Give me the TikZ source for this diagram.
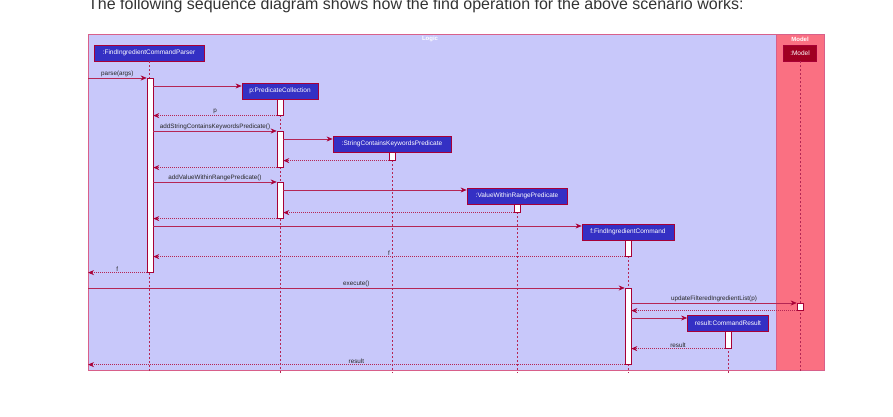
\documentclass[tikz,border=0pt]{standalone}
\usepackage{fontspec}
\setmainfont{Liberation Sans}
\usetikzlibrary{arrows.meta}
\definecolor{umlred}{HTML}{A80036}
\definecolor{umlblue}{HTML}{3430C4}
\definecolor{logicfill}{HTML}{C8C8FA}
\definecolor{modelfill}{HTML}{FA7082}
\definecolor{modeldark}{HTML}{A00022}
\definecolor{framepink}{HTML}{D8608A}
\definecolor{introgray}{HTML}{333333}
\begin{document}
\begin{tikzpicture}[x=1pt,y=-1pt,
  font=\fontsize{6.5}{7}\selectfont,
  frame/.style={draw=framepink, line width=0.8pt, inner sep=0pt, anchor=north west},
  group/.style={text=white, font=\fontsize{6}{7}\selectfont\bfseries},
  obj/.style={draw=umlred, fill=umlblue, text=white, inner sep=0pt,
    minimum height=16, line width=0.8pt},
  act/.style={draw=umlred, fill=white, minimum width=6, inner sep=0pt,
    anchor=north, line width=0.6pt},
  life/.style={draw=umlred!85!white, line width=0.5pt, dash pattern=on 2pt off 2pt},
  msg/.style={draw=umlred!85!white, line width=0.6pt,
    -{Stealth[length=6pt, width=5pt, inset=2pt, umlred]}},
  ret/.style={msg, dash pattern=on 1pt off 1pt},
  lbl/.style={above, inner sep=1pt, text=black!85, font=\fontsize{6.3}{7}\selectfont}]
  \useasboundingbox (0,0) rectangle (893,417);

  % Intro line
  \node[anchor=base west, inner sep=0pt, text=introgray,
    font=\fontsize{16}{18}\selectfont] (intro) at (88,10)
    {The following sequence diagram shows how the find operation for the above scenario works:};

  % Groups
  \node[frame, fill=logicfill, minimum width=688, minimum height=336] (logic) at (88,34) {};
  \node[frame, fill=modelfill, minimum width=48, minimum height=336] (modelgrp) at (776,34) {};
  \node[group] at (430,39) {Logic};
  \node[group] at (800,39) {Model};

  % Participants
  \node[obj, minimum width=110] (parser) at (149,53) {:FindIngredientCommandParser};
  \node[obj, minimum width=76] (pc) at (280,91) {p:PredicateCollection};
  \node[obj, minimum width=118] (sckp) at (392,144) {:StringContainsKeywordsPredicate};
  \node[obj, minimum width=100] (vwrp) at (517,196) {:ValueWithinRangePredicate};
  \node[obj, minimum width=92] (fic) at (628,232) {f:FindIngredientCommand};
  \node[obj, minimum width=33, fill=modeldark] (model) at (800,53) {:Model};
  \node[obj, minimum width=81] (cr) at (728,323) {result:CommandResult};

  % Lifelines
  \foreach \p in {parser,pc,sckp,vwrp,fic,model,cr}
    \draw[life] (\p.south) -- (\p.south |- 0,373);

  % Activations
  \node[act, minimum height=194] (parserA) at (150,78) {};
  \node[act, minimum height=16] (pcA) at (280,99) {};
  \node[act, minimum height=36] (pcB) at (280,131) {};
  \node[act, minimum height=36] (pcC) at (280,182) {};
  \node[act, minimum height=8] (sckpA) at (392,152) {};
  \node[act, minimum height=8] (vwrpA) at (517,204) {};
  \node[act, minimum height=16] (ficA) at (628,240) {};
  \node[act, minimum height=76] (ficB) at (628,288) {};
  \node[act, minimum height=7] (modelA) at (800,303) {};
  \node[act, minimum height=17] (crA) at (728,331) {};

  % Messages
  \draw[msg] (logic.west |- parserA.north) -- node[lbl]{parse(args)} (parserA.north west);
  \draw[msg] (parserA.east |- 0,86) -- (pc.west |- 0,86);
  \draw[ret] (pcA.south west) -- node[lbl]{p} (parserA.east |- pcA.south);
  \draw[msg] (parserA.east |- pcB.north) -- node[lbl]{addStringContainsKeywordsPredicate()} (pcB.north west);
  \draw[msg] (pcB.east |- 0,139) -- (sckp.west |- 0,139);
  \draw[ret] (sckpA.south west) -- (pcB.east |- sckpA.south);
  \draw[ret] (pcB.south west) -- (parserA.east |- pcB.south);
  \draw[msg] (parserA.east |- pcC.north) -- node[lbl]{addValueWithinRangePredicate()} (pcC.north west);
  \draw[msg] (pcC.east |- 0,190) -- (vwrp.west |- 0,190);
  \draw[ret] (vwrpA.south west) -- (pcC.east |- vwrpA.south);
  \draw[ret] (pcC.south west) -- (parserA.east |- pcC.south);
  \draw[msg] (parserA.east |- 0,226) -- (fic.west |- 0,226);
  \draw[ret] (ficA.south west) -- node[lbl]{f} (parserA.east |- ficA.south);
  \draw[ret] (parserA.south west) -- node[lbl]{f} (logic.west |- parserA.south);
  \draw[msg] (logic.west |- ficB.north) -- node[lbl]{execute()} (ficB.north west);
  \draw[msg] (ficB.east |- modelA.north) -- node[lbl]{updateFilteredIngredientList(p)} (modelA.north west);
  \draw[ret] (modelA.south west) -- (ficB.east |- modelA.south);
  \draw[msg] (ficB.east |- 0,318) -- (cr.west |- 0,318);
  \draw[ret] (crA.south west) -- node[lbl]{result} (ficB.east |- crA.south);
  \draw[ret] (ficB.south west) -- node[lbl]{result} (logic.west |- ficB.south);
\end{tikzpicture}
\end{document}
